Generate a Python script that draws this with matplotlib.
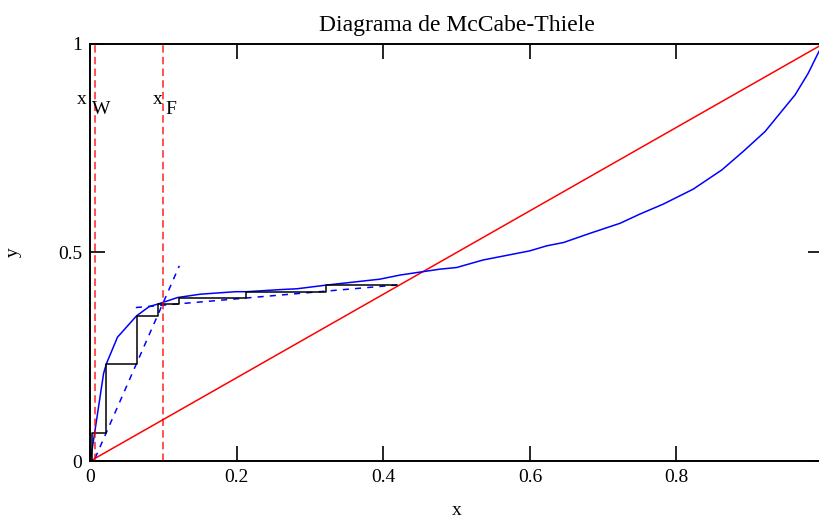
import numpy as np
import matplotlib
matplotlib.use('Agg')
import matplotlib.pyplot as plt

plt.rcParams['font.family'] = ['Liberation Serif', 'DejaVu Serif']

# curva de equilibrio
x_eq = [0.0, 0.018, 0.022, 0.037, 0.063, 0.080, 0.095, 0.119, 0.150, 0.198, 0.213,
        0.259, 0.282, 0.323, 0.395, 0.423, 0.477, 0.500, 0.536, 0.600, 0.623, 0.646,
        0.682, 0.723, 0.750, 0.782, 0.823, 0.862, 0.891, 0.921, 0.962, 0.980, 0.994, 1.0]
y_eq = [0.0, 0.210, 0.234, 0.297, 0.348, 0.370, 0.378, 0.392, 0.400, 0.406, 0.406,
        0.411, 0.413, 0.422, 0.436, 0.446, 0.460, 0.464, 0.482, 0.504, 0.516, 0.524,
        0.546, 0.570, 0.592, 0.616, 0.652, 0.698, 0.742, 0.790, 0.878, 0.930, 0.980, 1.0]

# composiciones
xW = 0.0063
xF = 0.099

# rectas de operacion
x_agot = [xW, 0.1214]
y_agot = [xW, 0.468]
x_rect = [0.062, 0.418]
y_rect = [0.368, 0.422]

# escalones
x_steps = [0.419, 0.321, 0.213, 0.121, 0.092, 0.063, 0.021, 0.0018]
y_steps = [0.422, 0.406, 0.390, 0.376, 0.348, 0.233, 0.068, 0.0]

fig = plt.figure(figsize=(8.19, 5.2), dpi=100)
ax = fig.add_axes([90.4 / 819, 59 / 520, 732.5 / 819, 417 / 520])

# diagonal
ax.plot([0, 1], [0, 1], color='#ff0000', lw=1.1)
# equilibrio
ax.plot(x_eq, y_eq, color='#0000ff', lw=1.1)
# rectas de operacion
ax.plot(x_agot, y_agot, color='#0000ff', lw=1.1, dashes=(4, 4))
ax.plot(x_rect, y_rect, color='#0000ff', lw=1.1, dashes=(4, 4))

# escalones
sx = [x_steps[0]]
sy = [y_steps[0]]
for i in range(len(x_steps) - 1):
    sx += [x_steps[i + 1], x_steps[i + 1]]
    sy += [y_steps[i], y_steps[i + 1]]
ax.plot(sx, sy, color='black', lw=1.1)

# xW, xF
for xv in [xW, xF]:
    ax.plot([xv, xv], [0, 1], color='#ff0000', lw=1.2, alpha=0.8, dashes=(4.5, 2.5))

ax.text(-0.0187, 0.856, 'x', fontsize=14, clip_on=False)
ax.text(0.0018, 0.832, 'W', fontsize=14)
ax.text(0.085, 0.856, 'x', fontsize=14)
ax.text(0.103, 0.832, 'F', fontsize=14)

ax.set_xlim(0, 1)
ax.set_ylim(0, 1)
ax.set_xticks([0, 0.2, 0.4, 0.6, 0.8])
ax.set_xticklabels(['0', '0.2', '0.4', '0.6', '0.8'])
ax.set_yticks([0, 0.5, 1])
ax.set_yticklabels(['0', '0.5', '1'])
ax.tick_params(direction='in', length=11, width=1.2, top=True, right=True,
               labelsize=14, pad=6)
for s in ax.spines.values():
    s.set_linewidth(1.4)

ax.set_title('Diagrama de McCabe-Thiele', fontsize=17, pad=9)
ax.set_xlabel('x', fontsize=14, labelpad=11)
ax.set_ylabel('y', fontsize=14, labelpad=26)

fig.savefig('out.png', dpi=100)
